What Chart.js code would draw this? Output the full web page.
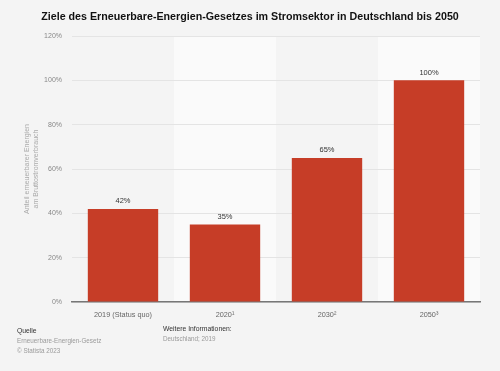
<!DOCTYPE html>
<html lang="de">
<head>
  <meta charset="UTF-8">
  <title>Ziele des Erneuerbare-Energien-Gesetzes</title>
  <script src="https://cdn.jsdelivr.net/npm/chart.js"></script>
  <style>
    body { margin: 0; background: #f4f4f4; font-family: "Liberation Sans", Arial, sans-serif; }
    #wrap { position: relative; width: 500px; height: 371px; }
    .note { position: absolute; font-size: 6.3px; line-height: 10px; color: #9a9a9a; }
    .note b { font-weight: normal; font-size: 6.8px; color: #333; }
  </style>
</head>
<body>
  <div id="wrap">
    <canvas id="chart" width="500" height="371"></canvas>
    <div class="note" style="left:17px; top:326px;"><b>Quelle</b><br>Erneuerbare-Energien-Gesetz<br>© Statista 2023</div>
    <div class="note" style="left:163px; top:324px;"><b>Weitere Informationen:</b><br>Deutschland; 2019</div>
  </div>

  <script>
    // chart data
    const categories = ['2019 (Status quo)', '2020¹', '2030²', '2050³'];
    const shares = [42, 35, 65, 100];
    const yTicks = [0, 20, 40, 60, 80, 100, 120];

    const titleText = 'Ziele des Erneuerbare-Energien-Gesetzes im Stromsektor in Deutschland bis 2050';
    const yTitle = ['Anteil erneuerbarer Energien', 'am Bruttostromverbrauch'];

    // lighter background for every other category band + title
    const bandsPlugin = {
      id: 'bands',
      beforeDraw(chart) {
        const {ctx, chartArea, scales: {x}} = chart;
        const w = (chartArea.right - chartArea.left) / categories.length;
        ctx.save();
        ctx.fillStyle = '#fafafa';
        categories.forEach((c, i) => {
          if (i % 2 === 1) {
            const cx = x.getPixelForValue(i);
            ctx.fillRect(cx - w / 2, chartArea.top, w, chartArea.bottom - chartArea.top);
          }
        });
        ctx.fillStyle = '#111';
        ctx.font = 'bold 10.7px "Liberation Sans", Arial, sans-serif';
        ctx.textAlign = 'center';
        ctx.textBaseline = 'middle';
        ctx.fillText(titleText, 250, 17);
        ctx.restore();
      },
      afterDatasetsDraw(chart) {
        const {ctx} = chart;
        const meta = chart.getDatasetMeta(0);
        ctx.save();
        ctx.fillStyle = '#333';
        ctx.font = '7.5px "Liberation Sans", Arial, sans-serif';
        ctx.textAlign = 'center';
        ctx.textBaseline = 'bottom';
        meta.data.forEach((bar, i) => {
          ctx.fillText(shares[i] + '%', bar.x, bar.y - 4);
        });
        ctx.restore();
      }
    };

    new Chart(document.getElementById('chart').getContext('2d'), {
      type: 'bar',
      data: {
        labels: categories,
        datasets: [{
          data: shares,
          backgroundColor: '#c63d27',
          categoryPercentage: 1,
          barPercentage: 0.69
        }]
      },
      options: {
        responsive: false,
        animation: false,
        events: [],
        layout: { padding: { top: 36, right: 20, bottom: 0, left: 0 } },
        plugins: { legend: { display: false }, tooltip: { enabled: false }, title: { display: false } },
        scales: {
          x: {
            afterFit(scale) { scale.height = 69; },
            grid: { display: false, drawTicks: false },
            border: { color: '#777', width: 1.5 },
            ticks: { color: '#666', padding: 9, font: { size: 7.3, family: '"Liberation Sans", Arial, sans-serif' } }
          },
          y: {
            min: 0,
            max: 120,
            afterFit(scale) { scale.width = 72; },
            afterBuildTicks(scale) { scale.ticks = yTicks.map(v => ({ value: v })); },
            grid: { color: '#e4e4e4', drawTicks: false },
            border: { display: false },
            ticks: {
              color: '#888',
              padding: 10,
              font: { size: 7, family: '"Liberation Sans", Arial, sans-serif' },
              callback: v => v + '%'
            },
            title: {
              display: true,
              text: yTitle,
              color: '#aaa',
              padding: { top: 23, bottom: 0 },
              font: { size: 7, family: '"Liberation Sans", Arial, sans-serif' }
            }
          }
        }
      },
      plugins: [bandsPlugin]
    });
  </script>
</body>
</html>
